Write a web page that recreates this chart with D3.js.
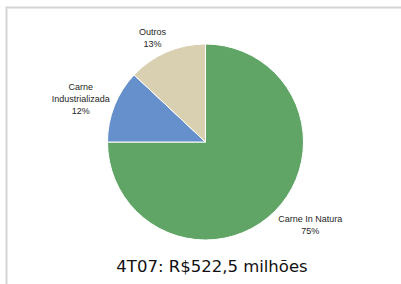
<!DOCTYPE html>
<html>
<head>
<meta charset="utf-8">
<script src="https://d3js.org/d3.v7.min.js"></script>
<style>
  body { margin: 0; background: #fff; }
</style>
</head>
<body>
<svg width="401" height="284"></svg>
<script>
// chart data
var categories = ["Carne In Natura", "Carne Industrializada", "Outros"];
var labelLines = [["Carne In Natura"], ["Carne", "Industrializada"], ["Outros"]];
var values = [75, 12, 13];
var colors = ["#60a566", "#6690cb", "#d9cfb1"];
var title = "4T07: R$522,5 milhões";

var svg = d3.select("svg"),
    cx = 205.5, cy = 142, radius = 98;

/** frame lines (top and left only) **/
svg.append("line").attr("x1", 6).attr("y1", 7.5).attr("x2", 401).attr("y2", 7.5)
  .attr("stroke", "#d6d6d6").attr("stroke-width", 2);
svg.append("line").attr("x1", 6.5).attr("y1", 6.5).attr("x2", 6.5).attr("y2", 284)
  .attr("stroke", "#d6d6d6").attr("stroke-width", 2);

var pie = d3.pie().sort(null).value(function(d) { return d; });
var arc = d3.arc().innerRadius(0).outerRadius(radius);
var arcs = pie(values);

var g = svg.append("g").attr("transform", "translate(" + cx + "," + cy + ")");

g.selectAll("path.slice")
  .data(arcs)
  .enter()
  .append("path")
  .attr("class", "slice")
  .attr("d", arc)
  .attr("fill", function(d, i) { return colors[i]; })
  .attr("stroke", "#fff")
  .attr("stroke-width", 1);

/** labels placed just outside, box pushed away from the pie **/
var labelRadius = 103;
arcs.forEach(function(d, i) {
  var a = (d.startAngle + d.endAngle) / 2;
  var s = Math.sin(a), c = Math.cos(a);
  var lines = labelLines[i].concat([values[i] + "%"]);
  var t = g.append("text")
    .attr("font-family", "Liberation Sans, Arial, sans-serif")
    .attr("font-size", "9px")
    .attr("fill", "#262626")
    .attr("text-anchor", "middle");
  lines.forEach(function(l, k) {
    t.append("tspan").attr("x", 0).attr("dy", k === 0 ? 0 : 12).text(l);
  });
  var w = t.node().getBBox().width, h = lines.length * 12;
  var sx = Math.max(-1, Math.min(1, s * 2.2)), sy = -c;
  var px = labelRadius * s + sx * w / 2,
      py = -labelRadius * c + sy * h / 2;
  var top = py - h / 2;
  t.attr("transform", "translate(" + px + "," + (top + 10.5) + ")");
});

svg.append("text")
  .attr("x", 212)
  .attr("y", 272)
  .attr("text-anchor", "middle")
  .attr("font-family", "DejaVu Sans, Verdana, sans-serif")
  .attr("font-size", "16.5px")
  .attr("fill", "#111")
  .text(title);
</script>
</body>
</html>
